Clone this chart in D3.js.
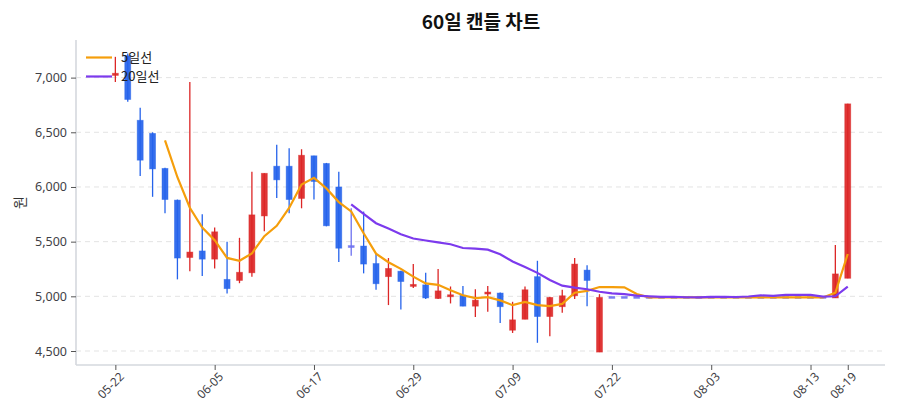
<!DOCTYPE html>
<html>
<head>
<meta charset="utf-8">
<script src="https://cdn.jsdelivr.net/npm/d3@7"></script>
<style>
  body { margin: 0; background: #fff; }
  svg { font-family: "Noto Sans CJK KR", "Noto Sans", sans-serif; }
</style>
</head>
<body>
<svg width="900" height="420"></svg>
<script>
var svg = d3.select('svg');

// 60 trading days, candle values (index = day)
var opens  = [7020, 7200, 6610, 6490, 6170, 5880, 5355, 5415, 5340, 5155,
              5145, 5215, 5735, 6190, 6190, 5895, 6285, 6215, 6000, 5455,
              5460, 5300, 5180, 5230, 5090, 5105, 4980, 4995, 5010, 4910,
              5020, 5030, 4690, 4790, 5180, 4815, 4905, 5005, 5240, 4490,
              4990, 4990, 4990, 4990, 4990, 4990, 4990, 4990, 4990, 4990,
              4990, 4990, 4990, 4990, 4990, 4990, 4990, 4990, 4985, 5165];
var highs  = [7190, 7220, 6725, 6500, 6175, 5885, 6960, 5750, 5630, 5500,
              5535, 6140, 6125, 6385, 6355, 6345, 6285, 6220, 6140, 5805,
              5775, 5395, 5350, 5235, 5295, 5215, 5250, 5090, 5095, 5065,
              5095, 5035, 4950, 5090, 5325, 4995, 5060, 5350, 5285, 5020,
              4990, 4990, 4990, 4990, 4990, 4990, 4990, 4990, 4990, 4990,
              4990, 4990, 4990, 4990, 4990, 4990, 4990, 4990, 5470, 6760];
var lows   = [6960, 6780, 6100, 5910, 5760, 5155, 5230, 5185, 5255, 5025,
              5120, 5180, 5595, 5900, 5760, 5805, 5885, 5640, 5315, 5370,
              5210, 5060, 4920, 4880, 5075, 4975, 4975, 4935, 4910, 4810,
              4860, 4755, 4665, 4790, 4575, 4635, 4850, 4975, 4910, 4490,
              4990, 4990, 4990, 4990, 4990, 4990, 4990, 4990, 4990, 4990,
              4990, 4990, 4990, 4990, 4990, 4990, 4990, 4990, 4985, 5165];
var closes = [7040, 6800, 6245, 6165, 5885, 5350, 5405, 5340, 5590, 5070,
              5220, 5745, 6125, 6065, 5885, 6290, 6050, 5645, 5440, 5455,
              5295, 5115, 5255, 5135, 5100, 4985, 5050, 5005, 4910, 4965,
              5030, 4905, 4785, 5060, 4815, 4990, 5005, 5295, 5145, 4990,
              4990, 4990, 4990, 4990, 4990, 4990, 4990, 4990, 4990, 4990,
              4990, 4990, 4990, 4990, 4990, 4990, 4990, 4990, 5205, 6760];

var tickIndex  = [0, 8, 16, 24, 32, 40, 48, 56, 59];
var tickLabels = ['05-22', '06-05', '06-17', '06-29', '07-09', '07-22', '08-03', '08-13', '08-19'];
var yTicks = [4500, 5000, 5500, 6000, 6500, 7000];

var plotL = 76, plotR = 885, plotT = 40, plotB = 365;

var x = d3.scaleLinear().domain([-3.17, 62]).range([plotL, plotR]);
var y = d3.scaleLinear().domain([4372, 7344]).range([plotB, plotT]);

// moving averages from the closes
function movingAvg(n) {
    var out = [];
    for (var i = n - 1; i < closes.length; i++) {
        out.push({i: i, v: d3.mean(closes.slice(i - n + 1, i + 1))});
    }
    return out;
}
var ma5 = movingAvg(5);
var ma20 = movingAvg(20);

// title
svg.append('text')
    .attr('x', 481).attr('y', 29)
    .attr('text-anchor', 'middle')
    .attr('font-size', 19).attr('font-weight', 700)
    .attr('fill', '#111')
    .text('60일 캔들 차트');

// grid
svg.append('g').selectAll('line')
    .data(yTicks)
    .enter()
    .append('line')
    .attr('x1', plotL).attr('x2', plotR)
    .attr('y1', function(d){ return y(d); })
    .attr('y2', function(d){ return y(d); })
    .attr('stroke', '#e3e3e3')
    .attr('stroke-dasharray', '5,4');

// axes
var yAxis = svg.append('g')
    .attr('transform', 'translate(' + plotL + ',0)')
    .call(d3.axisLeft(y).tickValues(yTicks).tickFormat(d3.format(',')).tickSize(5).tickPadding(4));
var xAxis = svg.append('g')
    .attr('transform', 'translate(0,' + plotB + ')')
    .call(d3.axisBottom(x).tickValues(tickIndex)
        .tickFormat(function(d, i){ return tickLabels[i]; }).tickSize(5).tickPadding(3));

[yAxis, xAxis].forEach(function(g){
    g.select('.domain').attr('stroke', '#d5d8de').attr('stroke-width', 1.6);
    g.selectAll('.tick line').attr('stroke', '#555');
    g.selectAll('.tick text').attr('fill', '#3f3f46').attr('font-size', 12.5)
        .attr('font-family', '"Noto Sans", "Noto Sans CJK KR", sans-serif');
});
yAxis.select('.domain').attr('d', 'M0,' + plotT + 'V' + plotB);
xAxis.select('.domain').attr('d', 'M' + plotL + ',0H' + plotR);
xAxis.selectAll('.tick text')
    .attr('font-size', 12)
    .attr('text-anchor', 'end')
    .attr('dx', '-0.2em').attr('dy', '0.6em')
    .attr('transform', 'rotate(-45)');

// y label
svg.append('text')
    .attr('transform', 'translate(25,' + ((plotT + plotB) / 2) + ') rotate(-90)')
    .attr('text-anchor', 'middle')
    .attr('font-size', 14).attr('fill', '#333')
    .text('원');

// candles
var days = d3.range(closes.length);
function candleColor(i) {
    if (closes[i] > opens[i]) return '#dc2626';
    if (closes[i] < opens[i]) return '#2563eb';
    return '#6d72f0';
}
var candles = svg.append('g').selectAll('g')
    .data(days)
    .enter()
    .append('g');

candles.append('line')
    .attr('x1', function(i){ return x(i); })
    .attr('x2', function(i){ return x(i); })
    .attr('y1', function(i){ return y(highs[i]); })
    .attr('y2', function(i){ return y(lows[i]); })
    .attr('stroke', candleColor)
    .attr('stroke-width', 1.3);

candles.append('rect')
    .attr('x', function(i){ return x(i) - 3; })
    .attr('width', 6)
    .attr('y', function(i){
        var top = y(Math.max(opens[i], closes[i]));
        return Math.abs(y(opens[i]) - y(closes[i])) < 2 ? top - 1 : top;
    })
    .attr('height', function(i){
        return Math.max(2, Math.abs(y(opens[i]) - y(closes[i])));
    })
    .attr('fill', candleColor)
    .attr('fill-opacity', 0.92)
    .attr('stroke', candleColor)
    .attr('stroke-opacity', 0.5)
    .attr('stroke-width', 0.8);

// moving average lines
var line = d3.line()
    .x(function(d){ return x(d.i); })
    .y(function(d){ return y(d.v); });

svg.append('path')
    .datum(ma5)
    .attr('d', line)
    .attr('fill', 'none')
    .attr('stroke', '#f59e0b')
    .attr('stroke-width', 2.2);

svg.append('path')
    .datum(ma20)
    .attr('d', line)
    .attr('fill', 'none')
    .attr('stroke', '#7c3aed')
    .attr('stroke-width', 2.2);

// legend
var legendItems = [{name: '5일선', color: '#f59e0b'}, {name: '20일선', color: '#7c3aed'}];
var legend = svg.append('g').selectAll('g')
    .data(legendItems)
    .enter()
    .append('g')
    .attr('transform', function(d, i){ return 'translate(86,' + (57.5 + i * 19) + ')'; });
legend.append('line')
    .attr('x1', 0).attr('x2', 26)
    .attr('stroke', function(d){ return d.color; })
    .attr('stroke-width', 2.2);
legend.append('text')
    .attr('x', 35).attr('dy', '0.35em')
    .attr('font-size', 13).attr('fill', '#222')
    .text(function(d){ return d.name; });
</script>
</body>
</html>
